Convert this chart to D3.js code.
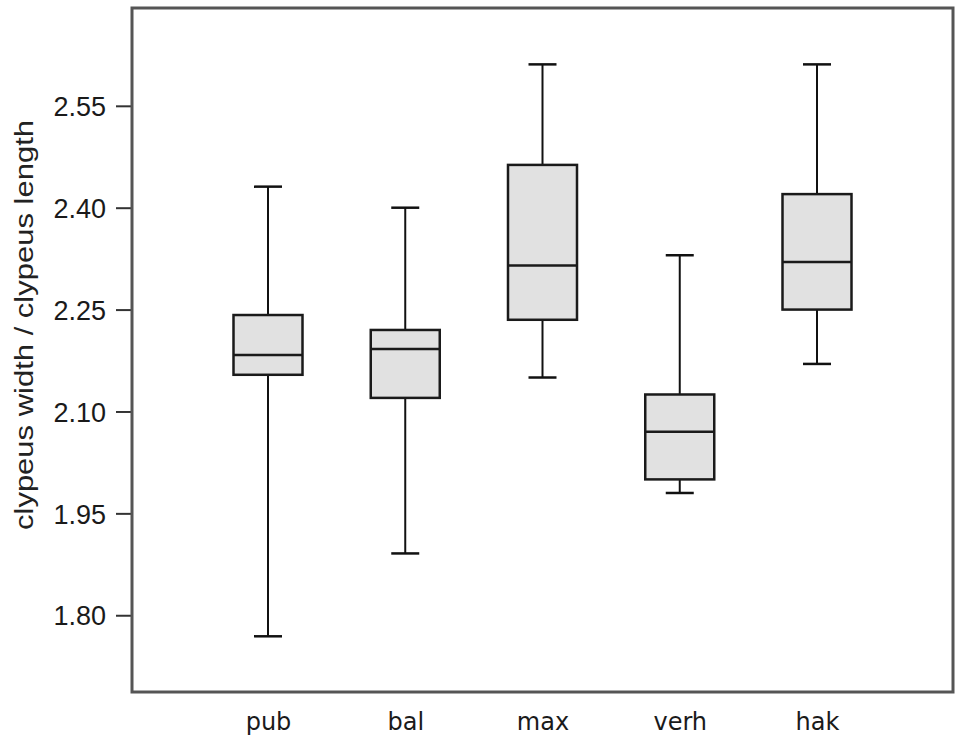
<!DOCTYPE html>
<html>
<head>
<meta charset="utf-8">
<script src="https://cdn.jsdelivr.net/npm/d3@7"></script>
<style>
  body { margin: 0; background: #fff; }
  svg { display: block; }
</style>
</head>
<body>
<svg id="chart" width="956" height="739"></svg>
<script>
const categories = ["pub", "bal", "max", "verh", "hak"];
const whiskerLow  = [1.769, 1.891, 2.150, 1.980, 2.170];
const q1          = [2.154, 2.120, 2.235, 2.000, 2.250];
const medians     = [2.183, 2.192, 2.315, 2.070, 2.320];
const q3          = [2.242, 2.220, 2.463, 2.125, 2.420];
const whiskerHigh = [2.431, 2.400, 2.611, 2.330, 2.611];
const yTicks = [1.80, 1.95, 2.10, 2.25, 2.40, 2.55];
const yTitle = "clypeus width / clypeus length";

(function () {
const data = categories.map((c, i) => ({
  cat: c, lo: whiskerLow[i], q1: q1[i], med: medians[i], q3: q3[i], hi: whiskerHigh[i]
}));

const mL = 132, mR = 953, mT = 8, mB = 692;
const svg = d3.select("#chart");

const x = d3.scalePoint().domain(categories).range([268, 817]);
const y = d3.scaleLinear().domain([1.687, 2.694]).range([mB, mT]);

const boxW = 69, capW = 28;

// Y axis
const yAxis = d3.axisLeft(y).tickValues(yTicks).tickFormat(d3.format(".2f"))
  .tickSize(16).tickPadding(10);
const gy = svg.append("g").attr("transform", `translate(${mL},0)`).call(yAxis);
gy.select(".domain").remove();
gy.selectAll(".tick line").attr("stroke", "#333").attr("stroke-width", 2);
gy.selectAll(".tick text").attr("fill", "#1a1a1a")
  .style("font-family", "'Liberation Sans', Arial, sans-serif").style("font-size", "27px")
  .attr("dy", "0.36em");

// X axis labels (no ticks)
const xAxis = d3.axisBottom(x).tickSize(0).tickPadding(21);
const gx = svg.append("g").attr("transform", `translate(0,${mB})`).call(xAxis);
gx.select(".domain").remove();
gx.selectAll(".tick text").attr("fill", "#1a1a1a")
  .style("font-family", "'DejaVu Sans', Verdana, sans-serif").style("font-size", "24px");

// Y title
svg.append("text")
  .attr("transform", `translate(33,325) rotate(-90)`)
  .attr("text-anchor", "middle")
  .attr("fill", "#222")
  .style("font-family", "'Liberation Sans', Arial, sans-serif").style("font-size", "26px")
  .attr("textLength", 410).attr("lengthAdjust", "spacingAndGlyphs")
  .text(yTitle);

// Boxes
const g = svg.append("g");
const box = g.selectAll("g.box").data(data).join("g").attr("class", "box");

box.append("line")
  .attr("x1", d => x(d.cat)).attr("x2", d => x(d.cat))
  .attr("y1", d => y(d.hi)).attr("y2", d => y(d.q3))
  .attr("stroke", "#111").attr("stroke-width", 2);
box.append("line")
  .attr("x1", d => x(d.cat)).attr("x2", d => x(d.cat))
  .attr("y1", d => y(d.q1)).attr("y2", d => y(d.lo))
  .attr("stroke", "#111").attr("stroke-width", 2);
box.append("line")
  .attr("x1", d => x(d.cat) - capW / 2).attr("x2", d => x(d.cat) + capW / 2)
  .attr("y1", d => y(d.hi)).attr("y2", d => y(d.hi))
  .attr("stroke", "#111").attr("stroke-width", 2.5);
box.append("line")
  .attr("x1", d => x(d.cat) - capW / 2).attr("x2", d => x(d.cat) + capW / 2)
  .attr("y1", d => y(d.lo)).attr("y2", d => y(d.lo))
  .attr("stroke", "#111").attr("stroke-width", 2.5);
box.append("rect")
  .attr("x", d => x(d.cat) - boxW / 2).attr("width", boxW)
  .attr("y", d => y(d.q3)).attr("height", d => y(d.q1) - y(d.q3))
  .attr("fill", "#e1e1e1").attr("stroke", "#1a1a1a").attr("stroke-width", 2.5);
box.append("line")
  .attr("x1", d => x(d.cat) - boxW / 2).attr("x2", d => x(d.cat) + boxW / 2)
  .attr("y1", d => y(d.med)).attr("y2", d => y(d.med))
  .attr("stroke", "#1a1a1a").attr("stroke-width", 2.5);

// Frame
svg.append("rect")
  .attr("x", mL).attr("y", mT).attr("width", mR - mL).attr("height", mB - mT)
  .attr("fill", "none").attr("stroke", "#555").attr("stroke-width", 3);
})();
</script>
</body>
</html>
